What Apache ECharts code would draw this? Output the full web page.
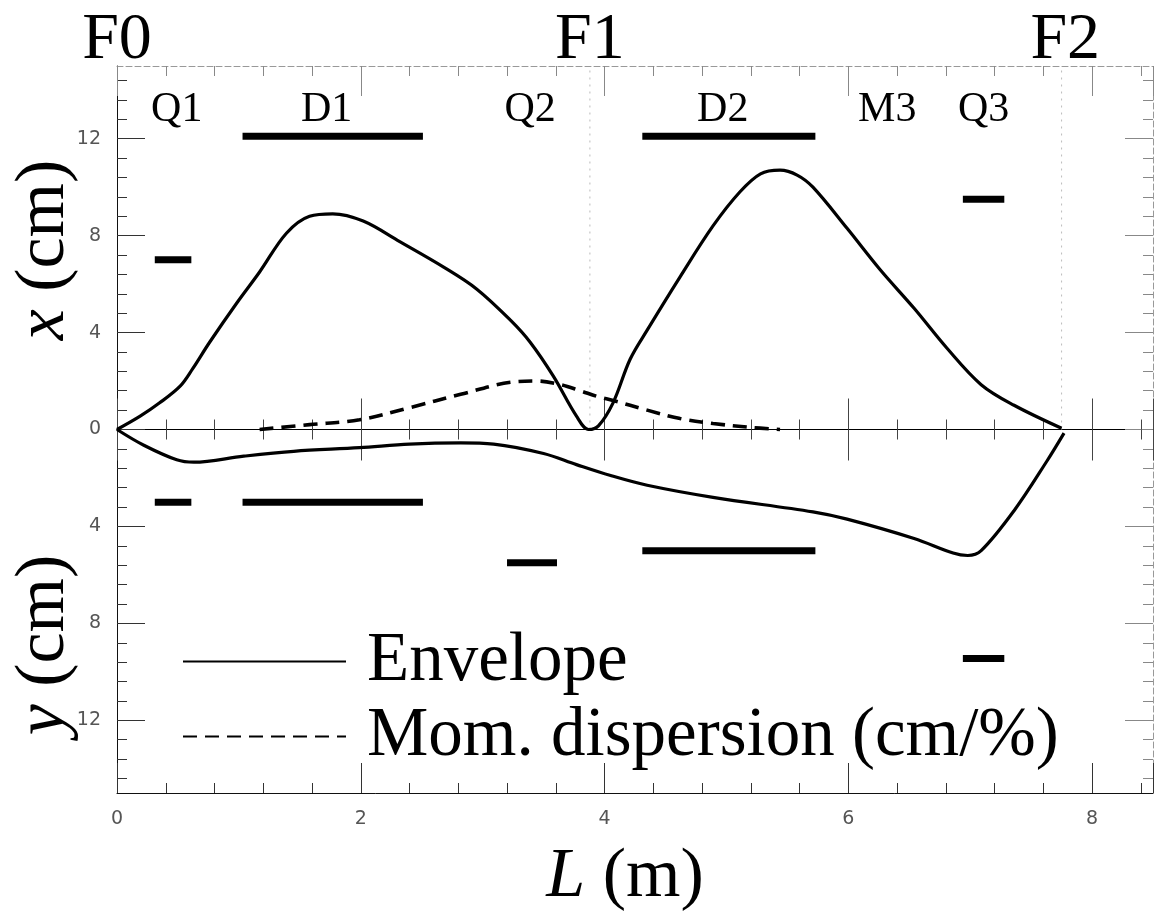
<!DOCTYPE html>
<html>
<head>
<meta charset="utf-8">
<script src="https://cdn.jsdelivr.net/npm/echarts@6/dist/echarts.min.js"></script>
<style>html,body{margin:0;padding:0;background:#fff}#c{width:1163px;height:920px}</style>
</head>
<body>
<div id="c"></div>
<script>
// ---------- data ----------
// horizontal (x) envelope, cm
const envXL = [0,0.19,0.35,0.52,0.62,0.76,0.98,1.17,1.39,1.58,1.77,2.02,2.32,2.68,2.95,3.23,3.39,3.58,3.77,3.87,3.95,4.07,4.21,4.35,4.62,4.89,5.11,5.28,5.44,5.58,5.71,5.99,6.26,6.54,6.81,7.09,7.36,7.75];
const envXV = [0,0.55,1.1,1.8,2.5,3.6,5.2,6.5,8.1,8.8,8.9,8.6,7.75,6.7,5.8,4.5,3.6,2.2,0.55,0.0,0.15,1.1,2.9,4.1,6.3,8.4,9.8,10.55,10.7,10.5,10.0,8.3,6.6,5.0,3.35,1.85,1.0,0.05];
// vertical (y) envelope magnitude, cm (plotted downward)
const envYL = [0,0.22,0.49,0.63,1.04,1.45,1.99,2.4,2.82,3.09,3.5,3.77,4.05,4.35,4.89,5.71,5.99,6.54,6.86,6.98,7.09,7.36,7.63,7.77];
const envYV = [0,0.65,1.25,1.35,1.1,0.9,0.75,0.6,0.55,0.6,0.99,1.45,1.9,2.3,2.8,3.4,3.7,4.5,5.1,5.2,5.0,3.35,1.3,0.15];
// momentum dispersion, cm/%
const dispL = [1.17,1.58,1.99,2.4,2.82,3.23,3.45,3.64,3.8,3.95,4.07,4.35,4.62,4.89,5.17,5.44];
const dispV = [0,0.2,0.4,0.9,1.45,1.95,2.0,1.85,1.6,1.35,1.2,0.8,0.45,0.25,0.1,0];
// element apertures
const apName  = ['Q1','D1','Q2','D2','Q3'];
const apStart = [0.31,1.03,3.20,4.31,6.94];
const apEnd   = [0.61,2.51,3.61,5.73,7.28];
const apX     = [7.0,12.1,null,12.1,9.5];
const apY     = [3.0,3.0,5.5,5.0,9.45];
// element labels
const elemNames = ['Q1','D1','Q2','D2','M3','Q3'];
const elemL     = [0.49,1.72,3.39,4.97,6.32,7.11];
const elemLabelV = 13.2;
// focal points
const focNames = ['F0','F1','F2'];
const focL     = [0,3.88,7.78];
const guideL   = [3.88,7.75];
// axes
const xMin = 0, xMax = 8.5, xInterval = 2;
const yMin = -15, yMax = 15;
const yLabelVals = [-12,-8,-4,0,4,8,12];
const yMinorStep = 0.8;

// ---------- build ----------
const yMinorVals = [];
for (let k = -18; k <= 18; k++) {
  const v = +(k * yMinorStep).toFixed(2);
  if (v > yMin && v < yMax && Math.abs(v % 4) > 1e-6) yMinorVals.push(v);
}
const serif = 'Liberation Serif';
const tickFont = {fontFamily:'DejaVu Sans', fontSize:19, color:'#555'};

function xAx(pos, opts) {
  return Object.assign({
    type:'value', min:xMin, max:xMax, interval:xInterval, position:pos,
    splitLine:{show:false},
    axisLine:{onZero:false, lineStyle:{color:'#111', width:1}},
    axisTick:{inside:true, length:30, lineStyle:{color:'#333'}},
    minorTick:{show:true, splitNumber:5, length:10, lineStyle:{color:'#333'}},
    axisLabel:{show:false}
  }, opts);
}
function yAx(pos, opts) {
  return Object.assign({
    type:'value', min:yMin, max:yMax, position:pos,
    splitLine:{show:false},
    axisLine:{onZero:false, lineStyle:{color:'#111', width:1}},
    axisTick:{inside:true, length:28, customValues:yLabelVals, lineStyle:{color:'#333'}},
    axisLabel:{show:false}
  }, opts);
}

const series = [];
series.push({
  name:'Envelope', type:'line', symbol:'none', smooth:0.35, xAxisIndex:0, yAxisIndex:0,
  lineStyle:{color:'#000', width:3.2}, itemStyle:{color:'#000'},
  data: envXL.map((l,i)=>[l, envXV[i]]), z:5
});
series.push({
  name:'Envelope', type:'line', symbol:'none', smooth:0.35, xAxisIndex:0, yAxisIndex:0,
  lineStyle:{color:'#000', width:3.2}, itemStyle:{color:'#000'},
  data: envYL.map((l,i)=>[l, -envYV[i]]), z:5
});
series.push({
  name:'Mom. dispersion (cm/%)', type:'line', symbol:'none', smooth:0.35, xAxisIndex:0, yAxisIndex:0,
  lineStyle:{color:'#000', width:3.6, type:[14,8]}, itemStyle:{color:'#000'},
  data: dispL.map((l,i)=>[l, dispV[i]]), z:5
});
apName.forEach((n,i)=>{
  if (apX[i] != null) series.push({
    name:n+' x aperture', type:'line', symbol:'none', xAxisIndex:0, yAxisIndex:0,
    lineStyle:{color:'#000', width:7, cap:'butt'}, silent:true,
    data:[[apStart[i], apX[i]],[apEnd[i], apX[i]]]
  });
  if (apY[i] != null) series.push({
    name:n+' y aperture', type:'line', symbol:'none', xAxisIndex:0, yAxisIndex:0,
    lineStyle:{color:'#000', width:7, cap:'butt'}, silent:true,
    data:[[apStart[i], -apY[i]],[apEnd[i], -apY[i]]]
  });
});
guideL.forEach((l,i)=>{
  series.push({
    name:'guide'+i, type:'line', symbol:'none', xAxisIndex:0, yAxisIndex:0, silent:true,
    lineStyle:{color:'#bbb', width:1, type:[2,5]},
    data:[[l,0],[l,yMax]], z:1
  });
});
series.push({
  name:'elements', type:'scatter', symbolSize:0, silent:true, clip:false,
  itemStyle:{opacity:1},
  data: elemNames.map((n,i)=>({value:[elemL[i], elemLabelV], name:n})),
  label:{show:true, position:'inside', formatter:'{b}', fontFamily:serif, fontSize:42, color:'#000', opacity:1}
});
series.push({
  name:'focal', type:'scatter', symbolSize:0, silent:true, clip:false,
  itemStyle:{opacity:1},
  data: focNames.map((n,i)=>({value:[focL[i], yMax], name:n})),
  label:{show:true, position:'inside', offset:[0,-25], formatter:'{b}', fontFamily:serif, fontSize:66, color:'#000', opacity:1}
});

const option = {
  animation:false,
  backgroundColor:'#fff',
  grid:{left:117, right:10, top:66, bottom:127, containLabel:false},
  legend:{
    data:['Envelope','Mom. dispersion (cm/%)'], orient:'vertical', left:177, top:622,
    itemWidth:163, itemHeight:2, itemGap:6, selectedMode:false,
    itemStyle:{opacity:0},
    textStyle:{fontFamily:serif, fontSize:69, color:'#000', padding:[0,0,0,16]}
  },
  xAxis:[
    xAx('bottom', {
      axisLabel:{show:true, margin:17, showMaxLabel:false, ...tickFont},
      name:'{i|L} (m)', nameLocation:'middle', nameGap:50,
      nameTextStyle:{fontFamily:serif, fontSize:70, color:'#000', padding:[0,20,0,0],
        rich:{i:{fontFamily:serif, fontSize:70, fontStyle:'italic', color:'#000'}}}
    }),
    xAx('top', {axisLine:{onZero:false, lineStyle:{color:'#999', width:1, type:[6,3]}},
                axisTick:{inside:true, length:30, lineStyle:{color:'#888'}},
                minorTick:{show:true, splitNumber:5, length:10, lineStyle:{color:'#888'}}}),
    xAx('bottom', {axisLine:{onZero:true, onZeroAxisIndex:0, lineStyle:{color:'#000', width:1.2}},
                   axisTick:{inside:false, length:31, lineStyle:{color:'#444'}},
                   minorTick:{show:true, splitNumber:5, length:10, lineStyle:{color:'#444'}}}),
    xAx('top', {axisLine:{onZero:true, onZeroAxisIndex:0, lineStyle:{color:'#000', width:1.2}},
                axisTick:{inside:false, length:31, lineStyle:{color:'#444'}},
                minorTick:{show:true, splitNumber:5, length:10, lineStyle:{color:'#444'}}})
  ],
  yAxis:[
    yAx('left', {axisLabel:{show:true, margin:16, customValues:yLabelVals,
                 formatter:v=>String(Math.abs(v)), ...tickFont}}),
    yAx('left', {axisLine:{show:false, onZero:false}, axisTick:{inside:true, length:10, customValues:yMinorVals, lineStyle:{color:'#333'}}}),
    yAx('right', {axisLine:{onZero:false, lineStyle:{color:'#999', width:1, type:[6,3]}},
                  axisTick:{inside:true, length:28, customValues:yLabelVals, lineStyle:{color:'#888'}}}),
    yAx('right', {axisLine:{show:false, onZero:false}, axisTick:{inside:true, length:10, customValues:yMinorVals, lineStyle:{color:'#888'}}})
  ],
  graphic:[
    {type:'text', x:45, y:250, rotation:Math.PI/2, z:10,
     style:{text:'{i|x} (cm)', fontFamily:serif, fontSize:70, fill:'#000', align:'center', verticalAlign:'middle',
            rich:{i:{fontFamily:serif, fontSize:70, fontStyle:'italic', fill:'#000'}}}},
    {type:'text', x:45, y:645, rotation:Math.PI/2, z:10,
     style:{text:'{i|y} (cm)', fontFamily:serif, fontSize:70, fill:'#000', align:'center', verticalAlign:'middle',
            rich:{i:{fontFamily:serif, fontSize:70, fontStyle:'italic', fill:'#000'}}}}
  ],
  series: series
};
const chart = echarts.init(document.getElementById('c'), null, {renderer:'canvas'});
chart.setOption(option);
</script>
</body>
</html>
